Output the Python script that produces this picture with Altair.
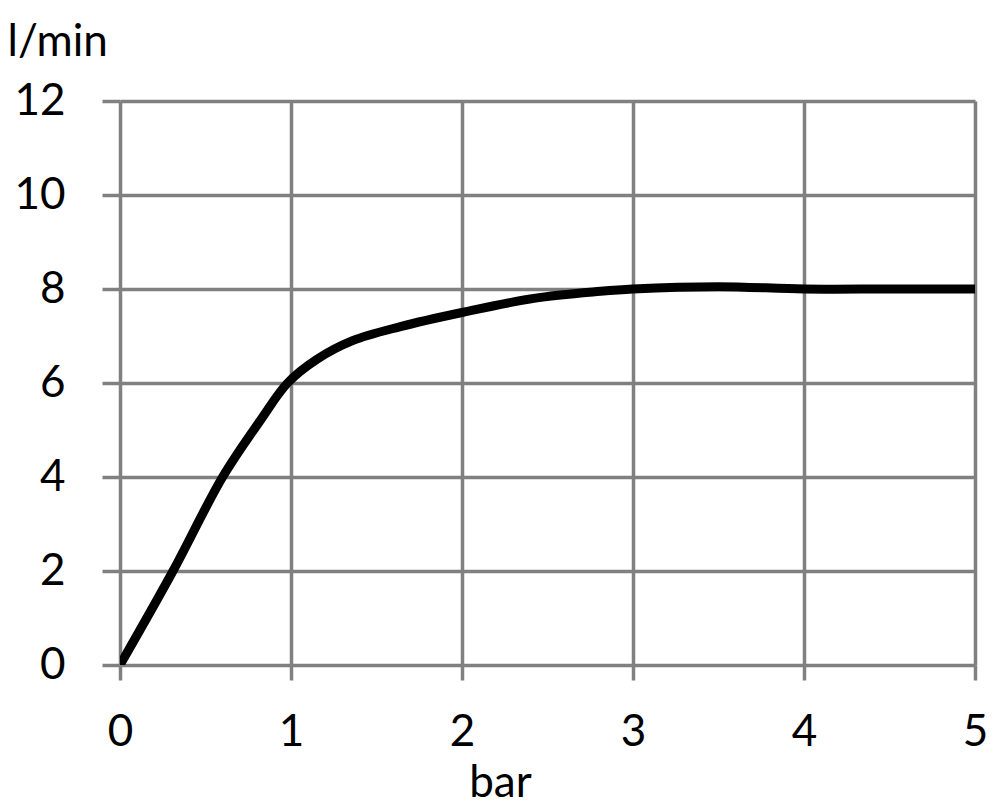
import altair as alt
import pandas as pd

pressure_bar = [0.0, 0.31, 0.60, 0.82, 0.98, 1.15, 1.36, 1.64, 2.0, 2.42, 2.81, 3.0, 3.5, 4.0, 4.5, 5.0]
flow_lpm = [0.0, 2.0, 4.0, 5.2, 6.0, 6.5, 6.9, 7.2, 7.5, 7.8, 7.95, 8.0, 8.05, 8.0, 8.0, 8.0]

x_ticks = [0, 1, 2, 3, 4, 5]
y_ticks = [0, 2, 4, 6, 8, 10, 12]

df = pd.DataFrame({"bar": pressure_bar, "lpm": flow_lpm})

FONT = "Lato"
GRID = "#808080"

chart = alt.Chart(df).mark_line(color="black", strokeWidth=9, interpolate="catmull-rom", clip=True).encode(
    x=alt.X("bar:Q", scale=alt.Scale(domain=[0, 5], nice=False, zero=False),
            axis=alt.Axis(values=x_ticks, title="bar", grid=True, gridColor=GRID, gridWidth=3.5,
                          domain=False, tickColor=GRID, tickWidth=3.5, tickSize=15,
                          labelFont=FONT, labelFontSize=44, labelColor="black", labelPadding=30,
                          titleFont=FONT, titleFontSize=44, titleFontWeight="normal", titleColor="black",
                          titleX=380, titleY=131, titleBaseline="alphabetic", titleAlign="center",
                          labelFlush=False)),
    y=alt.Y("lpm:Q", scale=alt.Scale(domain=[0, 12], nice=False, zero=False),
            axis=alt.Axis(values=y_ticks, title="l/min", grid=True, gridColor=GRID, gridWidth=3.5,
                          domain=False, tickColor=GRID, tickWidth=3.5, tickSize=18,
                          labelFont=FONT, labelFontSize=44, labelColor="black", labelPadding=37,
                          titleFont=FONT, titleFontSize=44, titleFontWeight="normal", titleColor="black",
                          titleAngle=0, titleX=-113, titleY=-46, titleAlign="left",
                          titleBaseline="alphabetic", labelFlush=False)),
).properties(
    width=855, height=564,
    autosize=alt.AutoSizeParams(type="none"),
    padding={"left": 112, "top": 93, "right": 17, "bottom": 150},
).configure_view(stroke=None).configure(background="white")

chart.save("out.html", embed_options={"renderer": "svg", "actions": False})
